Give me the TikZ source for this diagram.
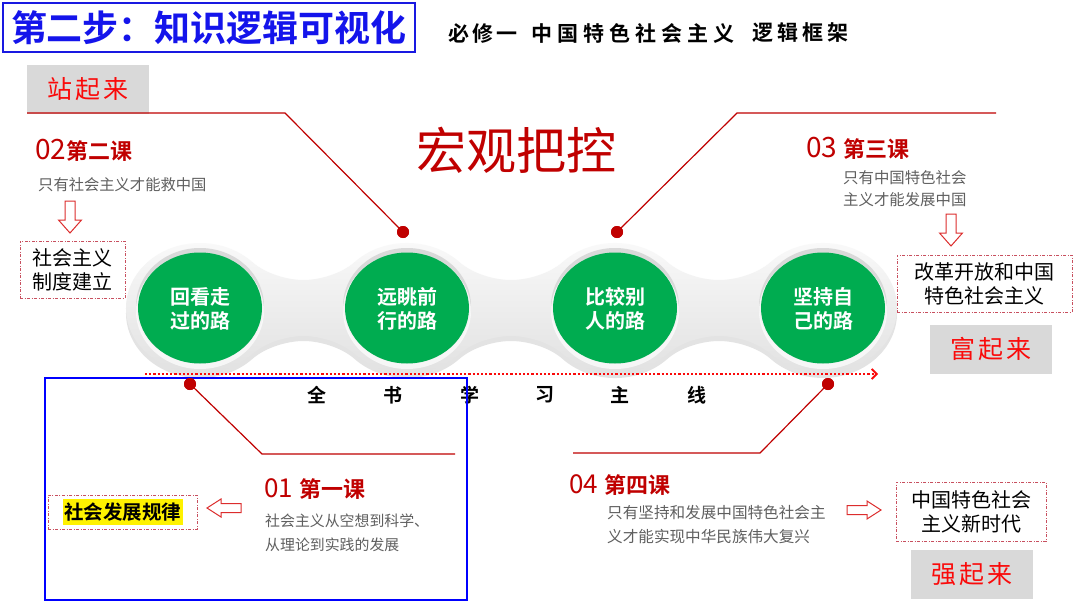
\documentclass[tikz,border=0pt]{standalone}
\usepackage{fontspec}
\setmainfont{Noto Sans CJK SC}[BoldFont={Noto Sans CJK SC Bold}]
\usetikzlibrary{shadows,arrows.meta,shapes.geometric}
\definecolor{dred}{RGB}{192,0,0}
\definecolor{bred}{RGB}{250,10,10}
\definecolor{tblue}{RGB}{25,25,225}
\definecolor{fblue}{RGB}{20,20,235}
\definecolor{ggreen}{RGB}{0,172,80}
\definecolor{txtgray}{RGB}{95,95,95}
\definecolor{boxgray}{RGB}{217,217,217}
\definecolor{dashred}{RGB}{200,80,95}
\definecolor{arrred}{RGB}{220,45,45}
\tikzset{
  redline/.style={dred, line width=1.2pt},
  reddot/.style={circle, fill=dred, inner sep=0pt, minimum size=12pt},
  graybox/.style={fill=boxgray, minimum width=122pt, minimum height=49pt, text=bred, font=\fontsize{25}{25}\selectfont\addfontfeature{LetterSpace=12}},
  dashbox/.style={draw=dashred, line width=0.8pt, dash pattern=on 3pt off 1.5pt on 1pt off 1.5pt, align=center, font=\fontsize{20}{24}\selectfont},
  lesson/.style={anchor=west, inner sep=0pt, text=dred},
  desc/.style={anchor=west, inner sep=0pt, text=txtgray, align=left},
  greentext/.style={text=white, align=center, font=\fontsize{20}{24}\selectfont\bfseries},
  mainline/.style={font=\fontsize{19}{19}\selectfont\bfseries, inner sep=0pt},
  hollowarrow/.pic={\draw[arrred, line width=1pt, fill=white] (-17,-4.5) -- (3,-4.5) -- (3,-9) -- (17,0) -- (3,9) -- (3,4.5) -- (-17,4.5) -- cycle;},
  bigarrow/.pic={\draw[arrred, line width=1pt, fill=white] (-16,-5) -- (3,-5) -- (3,-11.5) -- (16,0) -- (3,11.5) -- (3,5) -- (-16,5) -- cycle;}
}
\begin{document}
\begin{tikzpicture}[x=1pt,y=-1pt]
\useasboundingbox (0,0) rectangle (1080,608);
\fill[white] (0,0) rectangle (1080,608);

% title
\node[draw=tblue, line width=2.5pt, minimum width=412pt, minimum height=49pt, text=fblue,
      font=\fontsize{36}{36}\selectfont\bfseries] (title) at (209,27.5) {第二步：知识逻辑可视化};
\node[anchor=west, inner sep=0pt, font=\fontsize{21}{21}\selectfont\bfseries\addfontfeature{LetterSpace=14}] (sub1) at (448,33) {必修一};
\node[anchor=west, inner sep=0pt, font=\fontsize{21}{21}\selectfont\bfseries\addfontfeature{LetterSpace=24}] (sub2) at (531,33) {中国特色社会主义};
\node[anchor=west, inner sep=0pt, font=\fontsize{21}{21}\selectfont\bfseries\addfontfeature{LetterSpace=20}] (sub3) at (752,33) {逻辑框架};

% big title
\node[text=dred, font=\fontsize{50}{50}\selectfont] (hg) at (516,150) {宏观把控};

% gray boxes
\node[graybox] (zq) at (88,89) {站起来};
\node[graybox] (fq) at (990.5,349) {富起来};
\node[graybox] (qq) at (971.5,574.5) {强起来};

% band
\def\cy{308}
\path[top color=gray!4, bottom color=gray!24, drop shadow={opacity=0.22, shadow xshift=0pt, shadow yshift=-5pt}]
  (126,\cy) arc[start angle=180, end angle=315, x radius=74, y radius=65]
  .. controls (266,274) and (288,280) .. (303.5,280) .. controls (319,280) and (341,274) .. (354.7,262)
  arc[start angle=225, end angle=315, x radius=74, y radius=65]
  .. controls (473,274) and (495,280) .. (511,280) .. controls (527,280) and (549,274) .. (562.7,262)
  arc[start angle=225, end angle=315, x radius=74, y radius=65]
  .. controls (681,274) and (703,280) .. (719,280) .. controls (735,280) and (757,274) .. (770.7,262)
  arc[start angle=225, end angle=495, x radius=74, y radius=65]
  .. controls (757,342) and (735,336) .. (719,336) .. controls (703,336) and (681,342) .. (667.3,354)
  arc[start angle=45, end angle=135, x radius=74, y radius=65]
  .. controls (549,342) and (527,336) .. (511,336) .. controls (495,336) and (473,342) .. (459.3,354)
  arc[start angle=45, end angle=135, x radius=74, y radius=65]
  .. controls (341,342) and (319,336) .. (303.5,336) .. controls (288,336) and (266,342) .. (252.3,354)
  arc[start angle=45, end angle=180, x radius=74, y radius=65] -- cycle;

\foreach \cx/\nm/\txt in {200/g1/{回看走\\过的路}, 407/g2/{远眺前\\行的路}, 615/g3/{比较别\\人的路}, 823/g4/{坚持自\\己的路}}{
  \fill[gray!30] (\cx,\cy-2) ellipse[x radius=64, y radius=58];
  \fill[white, opacity=0.7] (\cx,\cy+3) ellipse[x radius=64, y radius=58];
  \node[ellipse, fill=ggreen, minimum width=124pt, minimum height=111pt, inner sep=0pt] (\nm) at (\cx,\cy) {};
  \node[greentext] (\nm t) at (\cx,\cy+1) {\txt};
}

% main line
\coordinate (da1) at (145,374);
\coordinate (da2) at (878,374);
\draw[bred, line width=2.8pt, dash pattern=on 2.2pt off 2pt, -{Straight Barb[length=5pt, width=10pt, line width=1.8pt]}] (da1) -- (da2);
\foreach \x/\c/\nm in {317/全/m1, 393/书/m2, 470/学/m3, 545/习/m4, 620/主/m5, 697/线/m6}{
  \node[mainline] (\nm) at (\x,395) {\c};
}

% blue frame
\draw[blue, line width=2.3pt] (45,378) rectangle (467,600);

% connector lines
\node[reddot] (d2) at (403,232) {};
\node[reddot] (d3) at (617,232) {};
\node[reddot] (d1) at (190,384) {};
\node[reddot] (d4) at (828,384) {};
\coordinate (l2s) at (27,113);
\coordinate (l2c) at (285,113);
\coordinate (l3c) at (737,113);
\coordinate (l3e) at (996,113);
\coordinate (l1c) at (262,454);
\coordinate (l1e) at (455,454);
\coordinate (l4c) at (760,453);
\coordinate (l4e) at (573,453);
\draw[redline] (l2s) -- (l2c) -- (d2.center);
\draw[redline] (l3e) -- (l3c) -- (d3.center);
\draw[redline] (d1.center) -- (l1c) -- (l1e);
\draw[redline] (d4.center) -- (l4c) -- (l4e);
\node[reddot] at (d2) {};
\node[reddot] at (d3) {};
\node[reddot] at (d1) {};
\node[reddot] at (d4) {};

% lesson 02
\node[lesson] (k2) at (35,150) {\fontsize{28}{28}\selectfont 02\fontsize{22}{22}\selectfont\bfseries 第二课};
\node[desc, font=\fontsize{15.3}{22}\selectfont] (t2) at (38,185) {只有社会主义才能救中国};
\pic[rotate=-90] (a2) at (70,217) {bigarrow};
\node[dashbox, minimum width=105pt, minimum height=57pt] (b2) at (72.5,269.5) {社会主义\\制度建立};

% lesson 03
\node[lesson] (k3) at (806,148) {\fontsize{28}{28}\selectfont 03\hspace{6pt}\fontsize{22}{22}\selectfont\bfseries 第三课};
\node[desc, font=\fontsize{15.4}{22}\selectfont] (t3) at (843,189) {只有中国特色社会\\主义才能发展中国};
\pic[rotate=-90] (a3) at (951,230) {bigarrow};
\node[dashbox, minimum width=175pt, minimum height=57pt] (b3) at (984.5,283.5) {改革开放和中国\\特色社会主义};

% lesson 01
\node[lesson] (k1) at (264,489) {\fontsize{26}{26}\selectfont 01\hspace{6pt}\fontsize{22}{22}\selectfont\bfseries 第一课};
\node[desc, font=\fontsize{14.9}{24}\selectfont] (t1) at (265,533) {社会主义从空想到科学、\\从理论到实践的发展};
\pic[rotate=180] (a1) at (224,508) {hollowarrow};
\node[dashbox, minimum width=149pt, minimum height=34pt] (b1) at (122.5,512) {};
\node[fill=yellow, inner xsep=1.5pt, inner ysep=4pt, font=\fontsize{19.5}{19.5}\selectfont\bfseries] (b1t) at (b1) {社会发展规律};

% lesson 04
\node[lesson] (k4) at (569,485) {\fontsize{26}{26}\selectfont 04\hspace{6pt}\fontsize{22}{22}\selectfont\bfseries 第四课};
\node[desc, font=\fontsize{15.6}{24}\selectfont] (t4) at (607,525) {只有坚持和发展中国特色社会主\\义才能实现中华民族伟大复兴};
\pic (a4) at (864,510) {hollowarrow};
\node[dashbox, minimum width=150pt, minimum height=59pt] (b4) at (971,511.5) {中国特色社会\\主义新时代};
\end{tikzpicture}
\end{document}
